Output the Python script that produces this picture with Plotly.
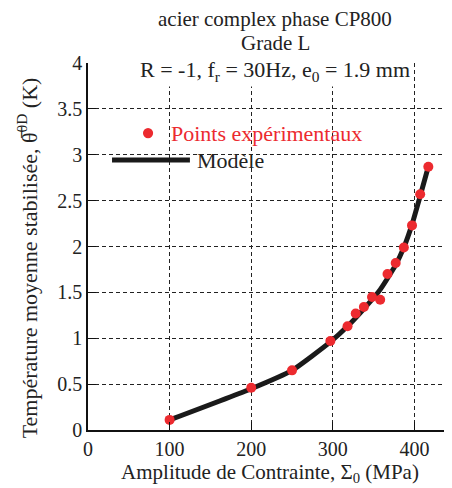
import plotly.graph_objects as go

# experimental points
exp_sigma = [100, 200, 250, 297, 318, 328, 338, 348, 358, 367, 377, 387, 397, 407, 417]
exp_theta = [0.11, 0.46, 0.65, 0.97, 1.13, 1.27, 1.34, 1.45, 1.42, 1.70, 1.82, 1.99, 2.23, 2.57, 2.87]

# model curve
mod_sigma = [100, 200, 250, 297, 318, 338, 358, 377, 387, 397, 407, 417]
mod_theta = [0.11, 0.45, 0.65, 0.96, 1.13, 1.32, 1.53, 1.80, 1.99, 2.24, 2.55, 2.87]

x_ticks = [0, 100, 200, 300, 400]
y_ticks = [0, 0.5, 1, 1.5, 2, 2.5, 3, 3.5, 4]
y_labels = ["0", "0.5", "1", "1.5", "2", "2.5", "3", "3.5", "4"]

RED = "#ec2a2f"
INK = "#222"
FONT = "Liberation Serif"

fig = go.Figure()
fig.add_trace(go.Scatter(x=mod_sigma, y=mod_theta, mode="lines",
                         line=dict(color="#1a1a1a", width=5, shape="spline", smoothing=0.5),
                         showlegend=False))
fig.add_trace(go.Scatter(x=exp_sigma, y=exp_theta, mode="markers",
                         marker=dict(color=RED, size=10), showlegend=False))

axis_common = dict(
    showgrid=True, gridcolor=INK, griddash="4px,3px", gridwidth=1,
    showline=True, linecolor="#111", linewidth=1.5,
    ticks="inside", ticklen=8, tickcolor="#111",
    tickfont=dict(family=FONT, size=20, color=INK),
    zeroline=False, automargin=False,
)
fig.update_xaxes(range=[0, 446], tickvals=x_ticks, **axis_common,
                 title=dict(text="Amplitude de Contrainte, Σ<sub>0</sub> (MPa)",
                            font=dict(family=FONT, size=21, color=INK), standoff=2))
fig.update_yaxes(range=[0, 4], tickvals=y_ticks, ticktext=y_labels, **axis_common)

# y title as a rotated annotation so it sits where the original has it
fig.add_annotation(text="Température moyenne stabilisée, θ̅<sup>0D</sup> (K)",
                   xref="paper", yref="paper", x=-0.168, y=0.47, textangle=-90,
                   xanchor="center", yanchor="middle", showarrow=False,
                   font=dict(family=FONT, size=22, color=INK))

# legend drawn by hand
fig.add_shape(type="circle", xref="paper", yref="paper",
              x0=0.151, x1=0.179, y0=0.795, y1=0.823,
              fillcolor=RED, line=dict(width=0))
fig.add_shape(type="line", xref="paper", yref="paper",
              x0=0.066, x1=0.28, y0=0.736, y1=0.736,
              line=dict(color="#1a1a1a", width=5))
fig.add_annotation(text="Points expérimentaux", xref="paper", yref="paper",
                   x=0.222, y=0.807, xanchor="left", yanchor="middle", showarrow=False,
                   font=dict(family=FONT, size=22, color=RED))
fig.add_annotation(text="Modèle", xref="paper", yref="paper",
                   x=0.295, y=0.733, xanchor="left", yanchor="middle", showarrow=False,
                   font=dict(family=FONT, size=22, color=INK))

# title lines
fig.add_annotation(text="acier complex phase CP800", xref="paper", yref="paper",
                   x=0.514, y=1.121, xanchor="center", yanchor="middle", showarrow=False,
                   font=dict(family=FONT, size=21, color=INK))
fig.add_annotation(text="Grade L", xref="paper", yref="paper",
                   x=0.514, y=1.054, xanchor="center", yanchor="middle", showarrow=False,
                   font=dict(family=FONT, size=21, color=INK))
fig.add_annotation(text="R = -1, f<sub>r</sub> = 30Hz, e<sub>0</sub> = 1.9 mm",
                   xref="paper", yref="paper", x=0.514, y=0.978,
                   xanchor="center", yanchor="middle", showarrow=False,
                   bgcolor="white", font=dict(family=FONT, size=22, color=INK))

# the page adds an 8px body margin, so the figure is sized to end at the window edge
fig.update_layout(
    width=444, height=480,
    margin=dict(l=80, r=0, t=55, b=58),
    plot_bgcolor="white", paper_bgcolor="white",
    font=dict(family=FONT),
)

fig.write_html("out.html")
